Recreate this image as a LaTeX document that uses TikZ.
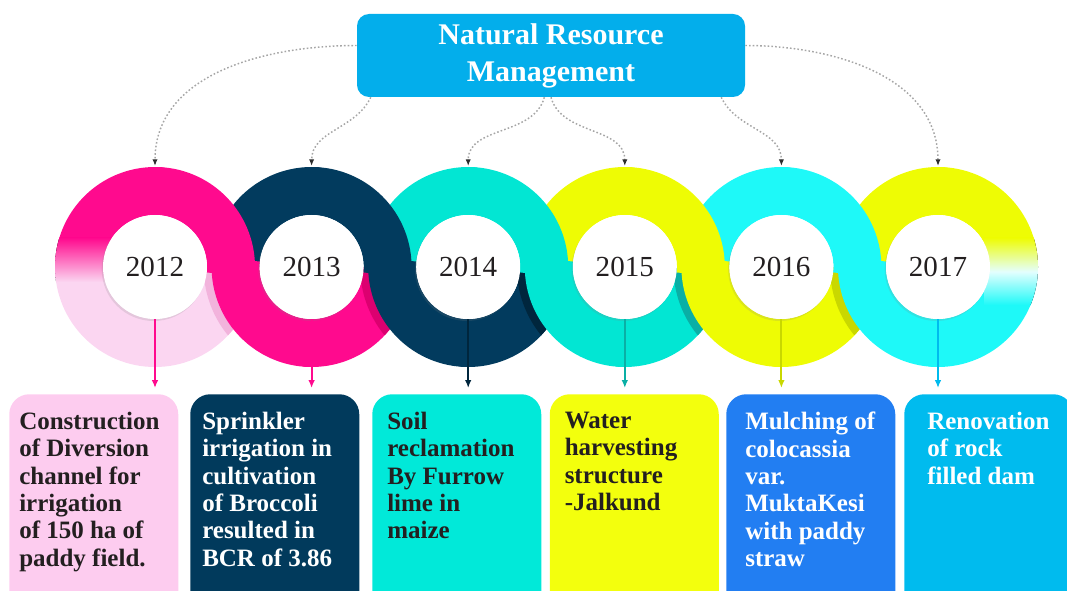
\documentclass[tikz,border=0pt]{standalone}
\usepackage{fontspec}
\setmainfont{Liberation Serif}
\usetikzlibrary{arrows.meta,shadows}

\definecolor{ringpink}{HTML}{FF0A8E}
\definecolor{ringpinkdk}{HTML}{DC0070}
\definecolor{lightpink}{HTML}{FBD6F1}
\definecolor{lightpinkdk}{HTML}{F2B3DC}
\definecolor{ringnavy}{HTML}{023B5E}
\definecolor{ringnavydk}{HTML}{00263D}
\definecolor{ringteal}{HTML}{02E6D3}
\definecolor{ringtealdk}{HTML}{0AAFA5}
\definecolor{ringyellow}{HTML}{EEFC04}
\definecolor{ringyellowdk}{HTML}{C9D800}
\definecolor{ringcyan}{HTML}{1EF9F8}
\definecolor{nrmblue}{HTML}{03AEEB}
\definecolor{txtdark}{HTML}{231F20}
\definecolor{boxpink}{HTML}{FDCCEF}
\definecolor{boxnavy}{HTML}{013A5C}
\definecolor{boxteal}{HTML}{01E9D9}
\definecolor{boxyellow}{HTML}{F3FF0D}
\definecolor{boxblue}{HTML}{227EF2}
\definecolor{boxsky}{HTML}{00BBEE}

% one piece of a ring: centre, from angle, to angle, options
\newcommand{\ringseg}[4]{%
  \fill[#4,shift={(#1)}] (#2:100) arc[start angle=#2,end angle=#3,radius=100]
    -- (#3:52) arc[start angle=#3,end angle=#2,radius=52] -- cycle;}
% shade that the next band throws on a ring: ring centre, next centre, colour
\newcommand{\ringshade}[3]{%
  \begin{scope}
    \clip (#1) circle[radius=100];
    \fill[#3,shift={(#2)}] (180:99) arc[start angle=180,end angle=270,radius=99]
      -- (270:108) arc[start angle=270,end angle=180,radius=108] -- cycle;
  \end{scope}}

\tikzset{
  yearnode/.style={circle,fill=white,minimum size=78pt,inner sep=0pt,text=txtdark,
    font=\fontsize{21.8}{24}\selectfont,
    drop shadow={opacity=0.18,shadow xshift=-1pt,shadow yshift=-1.5pt}},
  titlebox/.style={rounded corners=9pt,fill=nrmblue,text=white,minimum width=291pt,
    minimum height=62.25pt,align=center,font=\fontsize{22.5}{27.75}\selectfont\bfseries},
  descbox/.style={rounded corners=15pt,minimum width=126.75pt,minimum height=172.5pt,
    anchor=north west,inner sep=0pt},
  desctext/.style={anchor=north west,inner sep=0pt,align=left,
    font=\fontsize{18.75}{20.5}\selectfont\bfseries},
  linkdots/.style={dash pattern=on 1.2pt off 1.6pt,line width=1.1pt,draw=gray!70,
    -{Latex[length=5pt,width=4pt,color=gray!35!black]}},
  yeararrow/.style={line width=1.4pt,shorten >=4.5pt,-{Latex[length=6pt,width=5pt]}}
}

\begin{document}
\begin{tikzpicture}[x=0.75pt,y=0.75pt]
  \useasboundingbox (0,0) rectangle (1067,590);
  \clip (0,0) rectangle (1067,590);

  \coordinate (c1) at (155,323);
  \coordinate (c2) at (311.6,323);
  \coordinate (c3) at (468.2,323);
  \coordinate (c4) at (624.8,323);
  \coordinate (c5) at (781.4,323);
  \coordinate (c6) at (938,323);

  % ends of the bands
  \ringseg{c1}{180}{360}{lightpink}
  \ringseg{c2}{265}{360}{ringpink}
  \ringseg{c3}{265}{360}{ringnavy}
  \ringseg{c4}{265}{360}{ringteal}
  \ringseg{c5}{265}{360}{ringyellow}
  \ringseg{c6}{265}{360}{ringcyan}
  \ringshade{c1}{c2}{lightpinkdk}
  \ringshade{c2}{c3}{ringpinkdk}
  \ringshade{c3}{c4}{ringnavydk}
  \ringshade{c4}{c5}{ringtealdk}
  \ringshade{c5}{c6}{ringyellowdk}

  % starts of the bands
  \ringseg{c1}{180}{85}{ringpink}
  \ringseg{c2}{180}{85}{ringnavy}
  \ringseg{c3}{180}{85}{ringteal}
  \ringseg{c4}{180}{85}{ringyellow}
  \ringseg{c5}{180}{85}{ringcyan}
  \ringseg{c6}{180}{85}{ringyellow}
  \begin{scope}
    \clip (c1) circle[radius=100];
    \fill[top color=ringpink,bottom color=lightpink] (50,308) rectangle (112,352);
  \end{scope}

  % bands passing from one ring to the next
  \ringseg{c1}{90}{-6}{ringpink}
  \ringseg{c2}{174}{270}{ringpink}
  \ringseg{c2}{90}{-6}{ringnavy}
  \ringseg{c3}{174}{270}{ringnavy}
  \ringseg{c3}{90}{-6}{ringteal}
  \ringseg{c4}{174}{270}{ringteal}
  \ringseg{c4}{90}{-6}{ringyellow}
  \ringseg{c5}{174}{270}{ringyellow}
  \ringseg{c5}{90}{-6}{ringcyan}
  \ringseg{c6}{174}{270}{ringcyan}
  \ringseg{c6}{90}{0}{ringyellow}
  \begin{scope}
    \clip (c6) circle[radius=100];
    \fill[top color=ringyellow,bottom color=ringcyan,middle color=ringcyan!12!white]
      (984,285) rectangle (1040,352);
  \end{scope}

  \node[yearnode] (y12) at (c1) {2012};
  \node[yearnode] (y13) at (c2) {2013};
  \node[yearnode] (y14) at (c3) {2014};
  \node[yearnode] (y15) at (c4) {2015};
  \node[yearnode] (y16) at (c5) {2016};
  \node[yearnode] (y17) at (c6) {2017};

  \coordinate (rt1) at (155,424);
  \coordinate (rt2) at (311.6,424);
  \coordinate (rt3) at (468.2,424);
  \coordinate (rt4) at (624.8,424);
  \coordinate (rt5) at (781.4,424);
  \coordinate (rt6) at (938,424);

  \node[titlebox] (nrm) at (551,534.5) {Natural Resource\\Management};

  \draw[linkdots] ([yshift=7.5pt]nrm.west) to[out=180,in=90] (rt1);
  \draw[linkdots] ([xshift=10.5pt]nrm.south west) to[out=-115,in=90] (rt2);
  \draw[linkdots] ([xshift=-5pt]nrm.south) to[out=-105,in=90] (rt3);
  \draw[linkdots] (nrm.south) to[out=-75,in=90] (rt4);
  \draw[linkdots] ([xshift=-18pt]nrm.south east) to[out=-65,in=90] (rt5);
  \draw[linkdots] ([yshift=7.5pt]nrm.east) to[out=0,in=90] (rt6);

  % description boxes
  \node[descbox,fill=boxpink] (box1) at (9,196) {};
  \node[descbox,fill=boxnavy] (box2) at (190,196) {};
  \node[descbox,fill=boxteal] (box3) at (372,196) {};
  \node[descbox,fill=boxyellow] (box4) at (549.5,196) {};
  \node[descbox,fill=boxblue] (box5) at (726,196) {};
  \node[descbox,fill=boxsky] (box6) at (904,196) {};

  \node[desctext,text=txtdark] (txt1) at ([xshift=7.5pt,yshift=-13.5pt]box1.north west)
    {Construction\\of Diversion\\channel for\\irrigation\\of 150 ha of\\paddy field.};
  \node[desctext,text=white] (txt2) at ([xshift=9pt,yshift=-13.5pt]box2.north west)
    {Sprinkler\\irrigation in\\cultivation\\of Broccoli\\resulted in\\BCR of 3.86};
  \node[desctext,text=txtdark] (txt3) at ([xshift=11.25pt,yshift=-13.5pt]box3.north west)
    {Soil\\reclamation\\By Furrow\\lime in\\maize};
  \node[desctext,text=txtdark] (txt4) at ([xshift=11.25pt,yshift=-13.5pt]box4.north west)
    {Water\\harvesting\\structure\\-Jalkund};
  \node[desctext,text=white] (txt5) at ([xshift=14.25pt,yshift=-13.5pt]box5.north west)
    {Mulching of\\colocassia\\var.\\MuktaKesi\\with paddy\\straw};
  \node[desctext,text=white] (txt6) at ([xshift=17.25pt,yshift=-13.5pt]box6.north west)
    {Renovation\\of rock\\filled dam};

  \draw[yeararrow,ringpink] (y12) -- (y12 |- box1.north);
  \draw[yeararrow,ringpink] (y13) -- (y13 |- box2.north);
  \draw[yeararrow,ringnavydk] (y14) -- (y14 |- box3.north);
  \draw[yeararrow,ringtealdk] (y15) -- (y15 |- box4.north);
  \draw[yeararrow,ringyellowdk] (y16) -- (y16 |- box5.north);
  \draw[yeararrow,boxsky] (y17) -- (y17 |- box6.north);
\end{tikzpicture}
\end{document}
